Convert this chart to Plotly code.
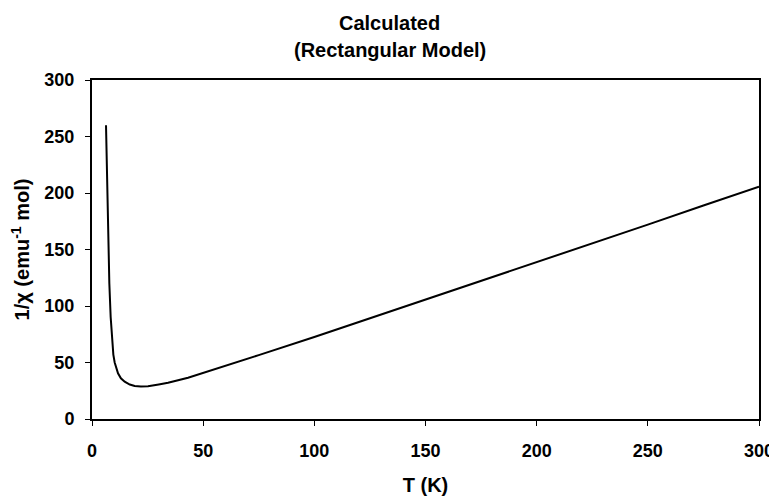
import plotly.graph_objects as go

T_K = [6.3, 6.6, 6.9, 7.3, 7.8, 8.4, 9.0, 9.6, 10.2, 11.0, 11.7, 13.0, 14.7, 17.0,
       19.2, 22.0, 25.2, 30.0, 34.2, 43.2, 52.0, 60.0, 75.0, 100.0, 125.0, 150.0,
       175.0, 200.0, 225.0, 250.0, 275.0, 300.0]
inv_chi = [260, 225, 195, 160, 120, 90, 69, 57, 50, 44, 40.4, 36.0, 33.0, 30.5,
           29.2, 28.7, 29.0, 30.5, 32.0, 36.5, 42.0, 46.5, 56.5, 72.5, 89.0, 105.5,
           122.0, 139.0, 155.5, 172.0, 189.0, 205.5]

x_ticks = [0, 50, 100, 150, 200, 250, 300]
y_ticks = [0, 50, 100, 150, 200, 250, 300]
title_lines = ["Calculated", "(Rectangular Model)"]

FONT = "Liberation Sans, Arial, sans-serif"

fig = go.Figure()
fig.add_trace(go.Scatter(x=T_K, y=inv_chi, mode="lines",
                         line=dict(color="black", width=2), showlegend=False))

# page body adds an 8px offset, so the figure is 8px smaller
fig.update_layout(
    width=769, height=488,
    margin=dict(l=84, r=18, t=72, b=77, autoexpand=False),
    paper_bgcolor="white", plot_bgcolor="white",
    font=dict(family=FONT, color="black", size=18),
)
for txt, ypx in zip(title_lines, [22.7, 50.0]):
    fig.add_annotation(text=f"<b>{txt}</b>", xref="paper", yref="paper",
                       x=(389.6 - 92) / 667, y=(419 - ypx) / 339,
                       xanchor="center", yanchor="middle", showarrow=False,
                       font=dict(size=20, family=FONT, color="black"))

fig.update_xaxes(range=[0, 300], tickvals=x_ticks, ticktext=[f"<b>{v}</b>" for v in x_ticks],
                 showline=True, linecolor="black", linewidth=2, mirror=True,
                 ticks="outside", ticklen=5, tickwidth=1, tickcolor="black",
                 ticklabelstandoff=9, automargin=False,
                 showgrid=False, zeroline=False,
                 title=dict(text="<b>T (K)</b>", standoff=19, font=dict(size=20)))
fig.update_yaxes(range=[0, 300], tickvals=y_ticks, ticktext=[f"<b>{v}</b>" for v in y_ticks],
                 showline=True, linecolor="black", linewidth=2, mirror=True,
                 ticks="outside", ticklen=5, tickwidth=1, tickcolor="black",
                 ticklabelstandoff=7, automargin=False,
                 showgrid=False, zeroline=False,
                 title=dict(text="<b>1/χ (emu<sup>-1</sup> mol)</b>", standoff=15, font=dict(size=20)))

fig.write_html("out.html")
